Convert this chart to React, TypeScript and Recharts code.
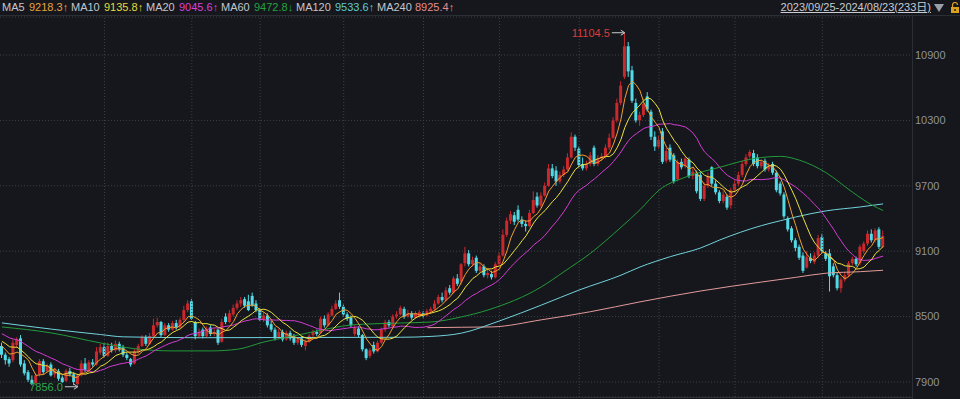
import React from 'react';
import { ComposedChart, Bar, Line, XAxis, YAxis, CartesianGrid, ReferenceLine, ReferenceDot } from 'recharts';

// [open, high, low, close]
const candles: [number, number, number, number][] = [
[8230,8260,8120,8150],[8150,8170,8060,8100],[8110,8130,8040,8070],[8100,8290,8080,8260],[8240,8310,8220,8290],
[8300,8330,8040,8060],[8070,8100,7960,7980],[7990,8010,7900,7920],[7920,7960,7870,7880],[7890,7980,7870,7960],
[7970,8110,7950,8090],[8090,8110,7970,7990],[8000,8070,7980,8050],[8060,8080,7950,7960],[7970,8030,7940,8010],
[8000,8020,7910,7930],[7940,7960,7890,7900],[7910,8020,7900,8000],[8000,8030,7950,7970],[7970,7990,7870,7900],
[7880,7975,7856,7960],[7960,8100,7950,8070],[8070,8120,7990,8010],[8010,8100,8000,8080],[8080,8110,8040,8060],
[8060,8220,8050,8180],[8170,8250,8150,8220],[8220,8250,8120,8140],[8140,8260,8130,8230],[8230,8260,8170,8190],
[8190,8280,8170,8250],[8250,8270,8180,8200],[8220,8240,8130,8150],[8150,8170,8100,8120],[8110,8120,8040,8060],
[8070,8200,8060,8180],[8180,8250,8160,8230],[8230,8330,8220,8310],[8310,8330,8230,8250],[8250,8350,8240,8320],
[8320,8480,8310,8420],[8420,8490,8400,8450],[8450,8460,8310,8330],[8330,8440,8320,8420],[8420,8440,8360,8380],
[8380,8460,8370,8440],[8440,8470,8380,8400],[8400,8490,8390,8470],[8470,8600,8450,8560],[8560,8650,8540,8620],
[8640,8660,8470,8480],[8450,8460,8290,8320],[8320,8390,8300,8360],[8380,8400,8300,8320],[8320,8410,8310,8380],
[8400,8420,8320,8340],[8340,8390,8320,8360],[8380,8390,8240,8260],[8270,8480,8260,8450],[8500,8530,8430,8450],
[8450,8560,8440,8530],[8520,8610,8500,8580],[8580,8650,8560,8620],[8620,8680,8590,8650],[8660,8680,8580,8600],
[8640,8700,8550,8560],[8690,8720,8590,8600],[8620,8650,8540,8560],[8560,8580,8460,8470],[8470,8540,8450,8510],
[8510,8530,8400,8420],[8430,8460,8360,8380],[8380,8400,8280,8300],[8310,8390,8290,8360],[8360,8380,8270,8290],
[8290,8370,8280,8350],[8350,8370,8280,8300],[8320,8340,8240,8260],[8260,8310,8240,8290],[8300,8320,8220,8240],
[8230,8290,8190,8270],[8270,8340,8260,8320],[8330,8380,8310,8360],[8360,8380,8320,8340],[8350,8500,8340,8480],
[8480,8510,8400,8420],[8420,8540,8410,8520],[8510,8600,8500,8570],[8570,8650,8560,8620],[8650,8720,8570,8590],
[8590,8610,8500,8520],[8520,8540,8460,8480],[8490,8510,8400,8420],[8340,8420,8320,8400],[8390,8410,8310,8330],
[8330,8340,8180,8200],[8200,8210,8100,8120],[8140,8210,8120,8190],[8240,8270,8160,8180],[8180,8280,8170,8260],
[8260,8400,8250,8380],[8380,8470,8360,8450],[8450,8470,8400,8420],[8410,8520,8400,8500],[8500,8550,8480,8520],
[8520,8600,8510,8580],[8570,8590,8480,8500],[8500,8560,8490,8530],[8530,8550,8470,8490],[8490,8550,8480,8530],
[8500,8560,8490,8540],[8530,8550,8490,8510],[8510,8570,8500,8550],[8550,8590,8540,8570],[8570,8650,8560,8620],
[8620,8700,8610,8680],[8680,8720,8630,8650],[8650,8770,8640,8740],[8760,8790,8700,8720],[8720,8870,8710,8850],
[8850,8890,8780,8800],[8820,8990,8790,8980],[8990,9140,8960,9080],[9080,9110,8960,8980],[8980,9050,8960,9020],
[9040,9060,8900,8920],[8920,8990,8900,8960],[8960,8980,8860,8880],[8880,8930,8850,8900],[8890,8920,8840,8860],
[8860,9000,8850,8980],[8980,9090,8970,9060],[9060,9300,9050,9250],[9250,9410,9230,9380],[9380,9470,9350,9440],
[9430,9460,9340,9370],[9480,9520,9370,9390],[9390,9420,9320,9350],[9350,9380,9280,9330],[9330,9480,9320,9450],
[9450,9650,9440,9570],[9600,9640,9500,9520],[9520,9640,9500,9610],[9610,9730,9600,9700],[9700,9900,9690,9860],
[9860,9900,9770,9790],[9840,9880,9700,9740],[9740,9830,9720,9800],[9800,9880,9780,9850],[9850,10000,9830,9960],
[9960,10190,9950,10150],[10150,10170,10020,10050],[10040,10060,9870,9890],[9900,9960,9840,9860],[9860,9930,9840,9900],
[9900,10010,9880,9980],[10050,10070,9880,9900],[9900,9980,9880,9950],[9950,10000,9930,9970],[9970,10080,9950,10050],
[10050,10180,10030,10140],[10140,10330,10130,10300],[10300,10500,10280,10460],[10460,10660,10440,10620],[10700,11104.5,10680,10980],
[10980,11020,10700,10750],[10760,10800,10460,10480],[10460,10500,10280,10300],[10300,10380,10250,10350],[10350,10500,10330,10450],
[10520,10560,10380,10400],[10380,10400,10120,10150],[10150,10200,10020,10060],[10060,10160,10040,10120],[10200,10230,9900,9920],
[9930,10050,9910,10020],[10050,10080,9920,9940],[9980,10000,9720,9740],[9760,9940,9740,9920],[9920,9950,9850,9870],
[9880,9970,9860,9950],[9940,9960,9770,9790],[9790,9860,9760,9830],[9820,9840,9630,9650],[9800,9830,9560,9580],
[9580,9730,9560,9700],[9700,9820,9680,9790],[9870,9880,9700,9720],[9720,9750,9620,9640],[9640,9660,9540,9560],
[9560,9650,9540,9620],[9600,9620,9480,9500],[9520,9680,9490,9660],[9660,9750,9640,9720],[9720,9830,9700,9800],
[9800,9930,9780,9900],[9900,9990,9880,9960],[9970,10030,9950,10010],[10000,10030,9880,9900],[9960,9990,9860,9880],
[9880,9940,9860,9920],[9930,9950,9830,9850],[9850,9910,9830,9890],[9900,9920,9800,9820],[9820,9840,9640,9660],
[9720,9740,9610,9630],[9620,9640,9400,9420],[9400,9420,9280,9300],[9310,9330,9180,9200],[9200,9220,9100,9130],
[9140,9160,9020,9040],[9060,9090,8900,8920],[8950,9100,8940,9050],[9040,9080,8990,9010],[9000,9090,8980,9060],
[9060,9250,9040,9220],[9230,9260,9080,9100],[9080,9100,9010,9030],[9080,9120,8730,8870],[8960,8990,8860,8880],
[8880,8900,8740,8760],[8760,8860,8720,8840],[8840,8910,8820,8880],[8880,9010,8860,8990],[8990,9050,8970,9030],
[9030,9050,8960,8980],[8990,9160,8970,9140],[9100,9190,9080,9170],[9170,9290,9150,9260],[9260,9300,9180,9200],
[9200,9310,9180,9290],[9300,9320,9120,9140],[9140,9290,9130,9240],
];

// closes of the 19 sessions before the window (for MA5/10/20)
const priorCloses = [8480,8450,8470,8420,8400,8430,8380,8360,8390,8340,8320,8350,8300,8290,8320,8280,8260,8240,8220];

// [index, value]
const ma60Points: [number, number][] = [
[0,8405],[13,8350],[26,8258],[35,8205],[45,8185],[55,8185],[62,8200],[69,8267],[78,8331],[87,8396],[92,8423],
[105,8441],[113,8450],[121,8497],[128,8561],[142,8772],[148,8912],[155,9082],[163,9320],[168,9480],[173,9660],
[180,9780],[189,9870],[198,9950],[205,9970],[210,9935],[217,9820],[224,9640],[229,9525],[232,9473],
];
const ma120Points: [number, number][] = [
[0,8442],[13,8385],[26,8335],[32,8314],[52,8306],[79,8308],[105,8310],[113,8318],[121,8348],[131,8460],
[142,8605],[152,8744],[163,8880],[168,8955],[176,9050],[184,9130],[189,9203],[200,9335],[205,9380],[209,9414],
[217,9470],[226,9506],[232,9534],
];
const ma240Points: [number, number][] = [
[112,8398],[121,8402],[129,8405],[142,8470],[155,8545],[168,8635],[184,8735],[200,8817],[209,8860],
[217,8898],[226,8912],[232,8925],
];

const yTicks = [7900, 8500, 9100, 9700, 10300, 10900];
const monthStartIdx = [27, 50, 68, 90, 111, 131, 152, 173, 193, 216];

const legendItems = [
  { name: 'MA5', value: '9218.3', dir: '↑', color: '#e9a23b', nx: 2, vx: 29 },
  { name: 'MA10', value: '9135.8', dir: '↑', color: '#e2dc3c', nx: 71, vx: 104 },
  { name: 'MA20', value: '9045.6', dir: '↑', color: '#d940d9', nx: 146, vx: 179 },
  { name: 'MA60', value: '9472.8', dir: '↓', color: '#23a33f', nx: 221, vx: 254 },
  { name: 'MA120', value: '9533.6', dir: '↑', color: '#5fcad0', nx: 296, vx: 335 },
  { name: 'MA240', value: '8925.4', dir: '↑', color: '#e88c8c', nx: 377, vx: 415 },
];
const rangeLabel = '2023/09/25-2024/08/23(233日)';
const highMark = { idx: 164, value: 11104.5, label: '11104.5' };
const lowMark = { idx: 20, value: 7856, label: '7856.0' };

const UP = '#c9282d';
const DOWN = '#52dbe6';
const BG = '#15171c';
const FONT = '"Liberation Sans", Arial, "Noto Sans CJK SC", sans-serif';

const closesAll = [...priorCloses, ...candles.map((c) => c[3])];
const movingAvg = (n: number, i: number) => {
  const k = i + priorCloses.length;
  if (k + 1 < n) return null;
  let s = 0;
  for (let j = k - n + 1; j <= k; j++) s += closesAll[j];
  return s / n;
};

const data: any[] = candles.map(([o, h, l, c], i) => ({
  i, o, h, l, c, range: [l, h],
  ma5: movingAvg(5, i), ma10: movingAvg(10, i), ma20: movingAvg(20, i),
  ma60: null, ma120: null, ma240: null,
}));
ma60Points.forEach(([i, v]) => { data[i].ma60 = v; });
ma120Points.forEach(([i, v]) => { data[i].ma120 = v; });
ma240Points.forEach(([i, v]) => { data[i].ma240 = v; });

const Candle = (props: any) => {
  const { x, y, width, height, payload } = props;
  if (!payload || x == null) return null;
  const { o, h, l, c } = payload;
  const top = Math.min(y, y + height);
  const hh = Math.abs(height);
  const k = h === l ? 0 : hh / (h - l);
  const py = (v: number) => top + (h - v) * k;
  const color = c >= o ? UP : DOWN;
  const cx = x + width / 2;
  const bTop = py(Math.max(o, c));
  const bBot = py(Math.min(o, c));
  return (
    <g>
      <line x1={cx} x2={cx} y1={top} y2={top + hh} stroke={color} strokeWidth={1} />
      <rect x={x} y={bTop} width={width} height={Math.max(1, bBot - bTop)} fill={color} />
    </g>
  );
};

const markShape = (label: string, color: string) => (p: any) => {
  const { cx, cy } = p;
  if (cx == null) return <g />;
  return (
    <g>
      <text x={cx - 15} y={cy} dy="0.35em" textAnchor="end" fill={color} fontSize={11} fontFamily={FONT}>{label}</text>
      <line x1={cx - 13} x2={cx - 1} y1={cy} y2={cy} stroke="#c9ccd2" strokeWidth={1} />
      <path d={`M${cx - 4},${cy - 2.5} L${cx},${cy} L${cx - 4},${cy + 2.5}`} stroke="#c9ccd2" fill="none" strokeWidth={1} />
    </g>
  );
};

export default function App() {
  return (
    <div style={{ position: 'fixed', left: 0, top: 0, width: 960, height: 399, background: BG, overflow: 'hidden', fontFamily: FONT }}>
      <div style={{ position: 'absolute', left: 0, top: 0, width: 960, height: 15, borderBottom: '1px solid #2b2e35' }}>
        {legendItems.map((it) => (
          <React.Fragment key={it.name}>
            <span style={{ position: 'absolute', left: it.nx, top: 1, fontSize: 11, color: '#c3c6cc', lineHeight: '13px' }}>{it.name}</span>
            <span style={{ position: 'absolute', left: it.vx, top: 1, fontSize: 11, color: it.color, lineHeight: '13px' }}>{it.value + it.dir}</span>
          </React.Fragment>
        ))}
        <span style={{ position: 'absolute', right: 29, top: 1, fontSize: 11, color: '#c9ccd2', lineHeight: '13px', textDecoration: 'underline' }}>{rangeLabel}</span>
        <svg style={{ position: 'absolute', left: 933, top: 3 }} width={12} height={10}>
          <path d="M1,1 L11,1 L6,9 Z" fill="#9aa0a8" />
        </svg>
        <svg style={{ position: 'absolute', left: 950, top: 2 }} width={10} height={12}>
          <path d="M2.5,5 L2.5,3 A2.5,2.5 0 0 1 7.5,3" stroke="#d9a321" fill="none" strokeWidth={1.2} />
          <rect x={1} y={5} width={8} height={6} fill="#d9a321" />
          <rect x={4.3} y={7} width={1.4} height={2} fill="#15171c" />
        </svg>
      </div>
      <div style={{ position: 'absolute', left: 912, top: 16, width: 1, height: 383, background: '#2b2e35' }} />
      <div style={{ position: 'absolute', left: 0, top: 397, width: 912, height: 1, background: '#2b2e35' }} />
      <div style={{ position: 'absolute', left: 0, top: 0 }}>
        <ComposedChart width={960} height={399} data={data} margin={{ top: 17, right: 0, bottom: 2, left: 0 }}>
          <CartesianGrid horizontal vertical={false} stroke="#3c4048" strokeDasharray="1 2" />
          <XAxis dataKey="i" type="category" hide padding={{ left: 0, right: 27 }} />
          <YAxis
            orientation="right"
            width={48}
            domain={[7762, 11249]}
            allowDataOverflow
            ticks={yTicks}
            interval={0}
            axisLine={false}
            tickLine={false}
            tickSize={0}
            tickMargin={3}
            tick={{ fill: '#8d929b', fontSize: 11, fontFamily: FONT, textAnchor: 'start' } as any}
          />
          {monthStartIdx.map((m) => (
            <ReferenceLine key={m} x={m} stroke="#3c4048" strokeDasharray="1 2" />
          ))}
          <Bar dataKey="range" barSize={3} shape={<Candle />} isAnimationActive={false} />
          <Line dataKey="ma240" type="monotone" stroke="#e39a9a" strokeWidth={1} dot={false} connectNulls isAnimationActive={false} />
          <Line dataKey="ma120" type="monotone" stroke="#72d3dc" strokeWidth={1} dot={false} connectNulls isAnimationActive={false} />
          <Line dataKey="ma60" type="monotone" stroke="#239a3a" strokeWidth={1} dot={false} connectNulls isAnimationActive={false} />
          <Line dataKey="ma20" type="linear" stroke="#d43cd4" strokeWidth={1} dot={false} isAnimationActive={false} />
          <Line dataKey="ma10" type="linear" stroke="#ece23e" strokeWidth={1} dot={false} isAnimationActive={false} />
          <Line dataKey="ma5" type="linear" stroke="#f0a030" strokeWidth={1} dot={false} isAnimationActive={false} />
          <ReferenceDot x={highMark.idx} y={highMark.value} r={0} shape={markShape(highMark.label, '#dc3b3b')} />
          <ReferenceDot x={lowMark.idx} y={lowMark.value} r={0} shape={markShape(lowMark.label, '#2fa84f')} />
        </ComposedChart>
      </div>
    </div>
  );
}
